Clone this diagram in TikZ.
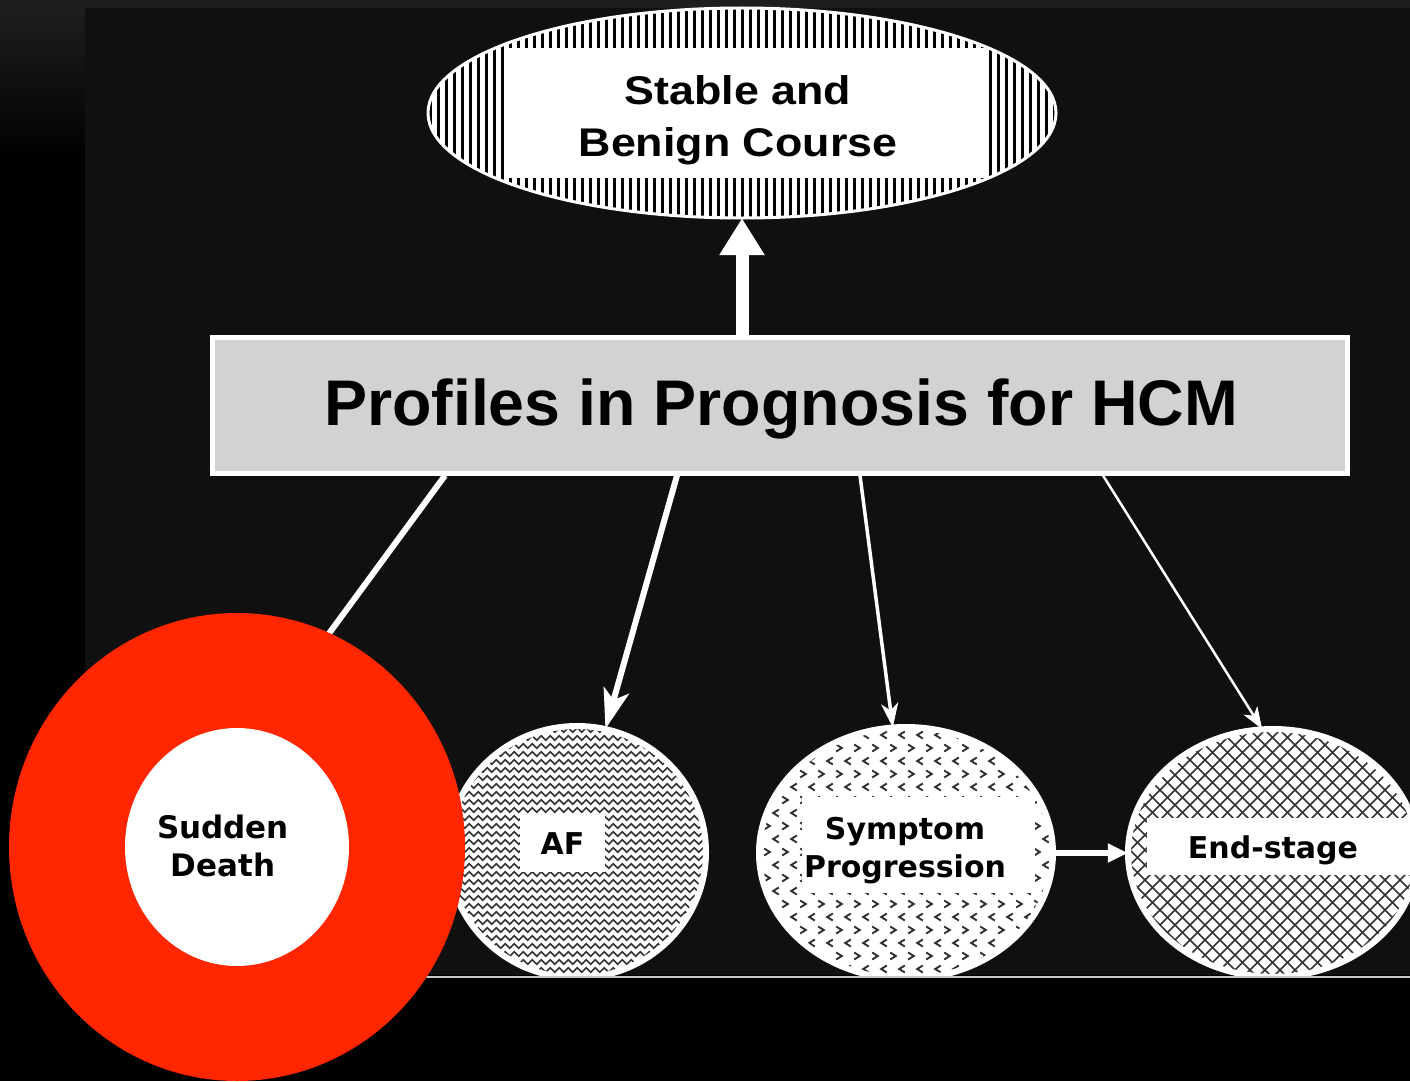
\documentclass[tikz,border=0pt]{standalone}
\usepackage{fontspec}
\usetikzlibrary{shapes.geometric,arrows.meta,decorations.pathmorphing}
\newfontfamily\helv{Liberation Sans}
\newfontfamily\dvs{DejaVu Sans}
\definecolor{ringred}{RGB}{255,38,0}
\definecolor{panel}{RGB}{16,16,16}
\definecolor{topstrip}{RGB}{30,30,30}
\definecolor{profgray}{RGB}{210,210,210}
\definecolor{patgray}{RGB}{50,50,50}
\definecolor{lightline}{RGB}{200,200,200}
\begin{document}
\begin{tikzpicture}[x=1pt,y=-1pt,
  ellnode/.style={ellipse, fill=white, inner sep=0pt, draw=none},
  lblbox/.style={rectangle, fill=white, inner sep=0pt},
  toptxt/.style={font=\helv\bfseries\fontsize{40}{52}\selectfont, align=center, text=black, inner sep=0pt},
  proftxt/.style={font=\helv\bfseries\fontsize{64.5}{70}\selectfont, text=black, inner sep=0pt},
  bottxt/.style={font=\dvs\bfseries\fontsize{30}{38}\selectfont, align=center, text=black, inner sep=0pt},
  hatchv/.style={black, line width=3pt},
  zig/.style={patgray, line width=1.6pt, decorate, decoration={zigzag, segment length=9pt, amplitude=2.3pt}},
  chev/.style={patgray, line width=1.9pt},
  xhatch/.style={patgray, line width=1.7pt},
  rim/.style={white, line width=6pt},
  conn/.style={white, line width=6pt}
]
\useasboundingbox (0,0) rectangle (1410,1081);
\fill[black] (0,0) rectangle (1410,1081);
\fill[topstrip] (0,0) rectangle (1410,8);
\shade[top color=topstrip, bottom color=black] (0,8) rectangle (85,160);
\fill[panel] (85,8) rectangle (1410,975);
\draw[lightline, line width=2pt] (300,977) -- (1410,977);

% Stable and Benign Course
\node[ellnode, minimum width=628pt, minimum height=210pt] (stable) at (742,113) {};
\begin{scope}
  \clip (stable.center) ellipse [x radius=314pt, y radius=105pt];
  \foreach \k in {0,...,80} \draw[hatchv] ({430+8*\k},0) -- ++(0,230);
\end{scope}
\node[lblbox, minimum width=476pt, minimum height=130pt] (stablebox) at (746,113) {};
\node[toptxt] (stabletxt) at (738,120) {\scalebox{1.12}[1]{Stable and}\\\scalebox{1.12}[1]{Benign Course}};
\draw[white, line width=3pt] (stable.center) ellipse [x radius=314pt, y radius=105pt];

% Main box
\node[draw=white, line width=5pt, fill=profgray, minimum width=1135pt, minimum height=136pt, inner sep=0pt] (prof) at (779.5,405) {};
\node[proftxt] (proftitle) at (781,409) {Profiles in Prognosis for HCM};

\draw[white, line width=13pt, -{Triangle[length=37pt,width=43pt]}] ([xshift=-37.5pt]prof.north) -- (stable.south);

\begin{scope}
  \clip (85,8) rectangle (1410,975);
  % AF
  \node[ellnode, minimum width=258pt, minimum height=252pt] (af) at (577,852) {};
  \begin{scope}
    \clip (af.center) ellipse [x radius=129pt, y radius=126pt];
    \foreach \r in {0,...,33} \draw[zig] (440,{722+8*\r}) -- (720,{722+8*\r});
  \end{scope}
  \node[lblbox, bottxt, minimum width=85pt, minimum height=57pt] (aflbl) at (562.5,843.5) {AF};
  \draw[rim] (af.center) ellipse [x radius=129pt, y radius=126pt];
  % Symptom Progression
  \node[ellnode, minimum width=294pt, minimum height=252pt] (sym) at (906,853) {};
  \begin{scope}
    \clip (sym.center) ellipse [x radius=147pt, y radius=126pt];
    \foreach \i in {0,...,18} {
      \pgfmathsetmacro\yy{735+13*\i}
      \pgfmathsetmacro\off{mod(\i,2)*9}
      \pgfmathsetmacro\dir{2.8*(1-2*mod(\i,2))}
      \foreach \j in {0,...,16} {
        \pgfmathsetmacro\xx{758+18*\j+\off}
        \draw[chev] ({\xx+\dir},{\yy-3.5}) -- ({\xx-\dir},\yy) -- ({\xx+\dir},{\yy+3.5});
      }
    }
  \end{scope}
  \node[lblbox, minimum width=233pt, minimum height=96pt] (symbox) at (918.5,845) {};
  \node[bottxt] (symtxt) at (905,851) {Symptom\\Progression};
  \draw[rim] (sym.center) ellipse [x radius=147pt, y radius=126pt];
  % End-stage
  \node[ellnode, minimum width=290pt, minimum height=248pt] (endst) at (1273,853) {};
  \begin{scope}
    \clip (endst.center) ellipse [x radius=145pt, y radius=124pt];
    \foreach \k in {0,...,60} {
      \draw[xhatch] ({800+15*\k},700) -- ++(300,300);
      \draw[xhatch] ({800+15*\k},700) -- ++(-300,300);
    }
  \end{scope}
  \node[lblbox, minimum width=273pt, minimum height=57pt] (endbox) at (1283.5,846.5) {};
  \node[bottxt] (endtxt) at (1273,850) {End-stage};
  \draw[rim] (endst.center) ellipse [x radius=145pt, y radius=124pt];
\end{scope}

% Connectors
\coordinate (sdend) at (300,673);
\draw[conn] ([xshift=-334.5pt]prof.south) -- (sdend);
\draw[white, line width=6pt, -{Stealth[length=40pt,width=26pt,inset=10pt]}] ([xshift=-102.5pt]prof.south) -- (af.77);
\draw[white, line width=3.5pt, -{Stealth[length=24pt,width=17pt,inset=7pt]}] ([xshift=80.5pt]prof.south) -- (sym.96);
\draw[white, line width=2.5pt, -{Stealth[length=22pt,width=16pt,inset=6pt]}] ([xshift=323.5pt]prof.south) -- (endst.95);
\draw[white, line width=6pt, -{Triangle[length=20pt,width=18pt]}] (sym.east) -- (endst.west);

% Red ring and Sudden Death
\fill[ringred] (237,847) ellipse [x radius=228pt, y radius=234pt];
\node[ellnode, minimum width=224pt, minimum height=238pt] (sd) at (237,847) {};
\node[bottxt, font=\dvs\bfseries\fontsize{31}{38}\selectfont] (sdtxt) at (223,846) {Sudden\\Death};
\end{tikzpicture}
\end{document}
